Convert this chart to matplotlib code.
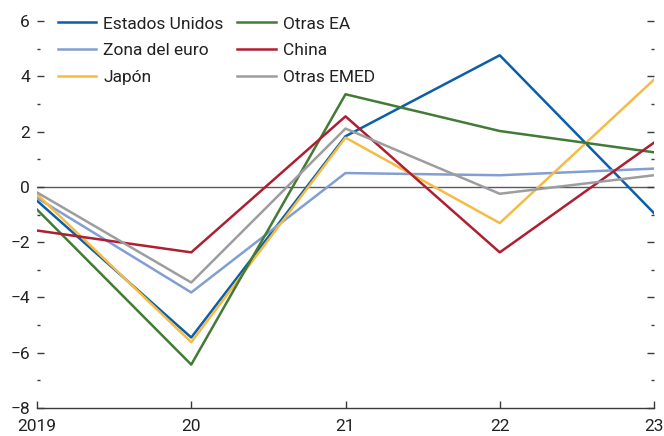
import matplotlib
matplotlib.use("Agg")
import matplotlib.pyplot as plt
from matplotlib.ticker import FixedLocator

plt.rcParams['font.family'] = ['Roboto', 'DejaVu Sans']

years = [2019, 2020, 2021, 2022, 2023]
year_labels = ["2019", "20", "21", "22", "23"]

estados_unidos = [-0.50, -5.45, 1.83, 4.76, -0.95]
zona_euro = [-0.40, -3.82, 0.50, 0.42, 0.66]
japon = [-0.27, -5.62, 1.78, -1.31, 3.88]
otras_ea = [-0.82, -6.43, 3.35, 2.02, 1.25]
china = [-1.58, -2.37, 2.55, -2.37, 1.60]
otras_emed = [-0.20, -3.46, 2.11, -0.25, 0.42]

series = [
    ("Estados Unidos", estados_unidos, "#0b5ea8"),
    ("Zona del euro", zona_euro, "#829ed3"),
    ("Japón", japon, "#f5bb44"),
    ("Otras EA", otras_ea, "#437a36"),
    ("China", china, "#ae1f31"),
    ("Otras EMED", otras_emed, "#9d9d9f"),
]

fig = plt.figure(figsize=(6.64, 4.36), dpi=100)
ax = fig.add_axes([37/664, 1-408/436, (654-37)/664, (408-21)/436])

ax.axhline(0, color="#5a5a5a", lw=1.0, zorder=1)
for name, vals, col in series:
    ax.plot(years, vals, color=col, lw=1.8, label=name, zorder=2)

ax.set_xlim(2019, 2023)
ax.set_ylim(-8, 6)
ax.set_xticks(years)
ax.set_xticklabels(year_labels)
ax.yaxis.set_major_locator(FixedLocator([-8, -6, -4, -2, 0, 2, 4, 6]))
ax.set_yticklabels(["\u22128", "\u22126", "\u22124", "\u22122", "0", "2", "4", "6"])
ax.yaxis.set_minor_locator(FixedLocator([-7, -5, -3, -1, 1, 3, 5]))

for s in ["left", "right", "top"]:
    ax.spines[s].set_visible(False)
ax.spines["bottom"].set_color("#3a3a3a")
ax.spines["bottom"].set_linewidth(1.0)

ax.tick_params(axis="y", which="major", direction="in", length=5, width=1.0,
               color="#3a3a3a", labelsize=12.5, pad=5, right=True, left=True)
ax.tick_params(axis="y", which="minor", direction="in", length=2.5, width=1.0,
               color="#3a3a3a", right=True, left=True)
ax.tick_params(axis="x", which="major", direction="in", length=5, width=1.0,
               color="#3a3a3a", labelsize=12.5, pad=8)
for lab in ax.get_yticklabels() + ax.get_xticklabels():
    lab.set_color("#222222")

leg = ax.legend(ncol=2, loc="upper left", bbox_to_anchor=(0.034, 1.012), frameon=False,
                fontsize=12.5, handlelength=2.2, handletextpad=0.4, columnspacing=0.8,
                labelspacing=0.67, borderaxespad=0, borderpad=0)
for t in leg.get_texts():
    t.set_color("#222222")

fig.savefig("out.png", dpi=100)
